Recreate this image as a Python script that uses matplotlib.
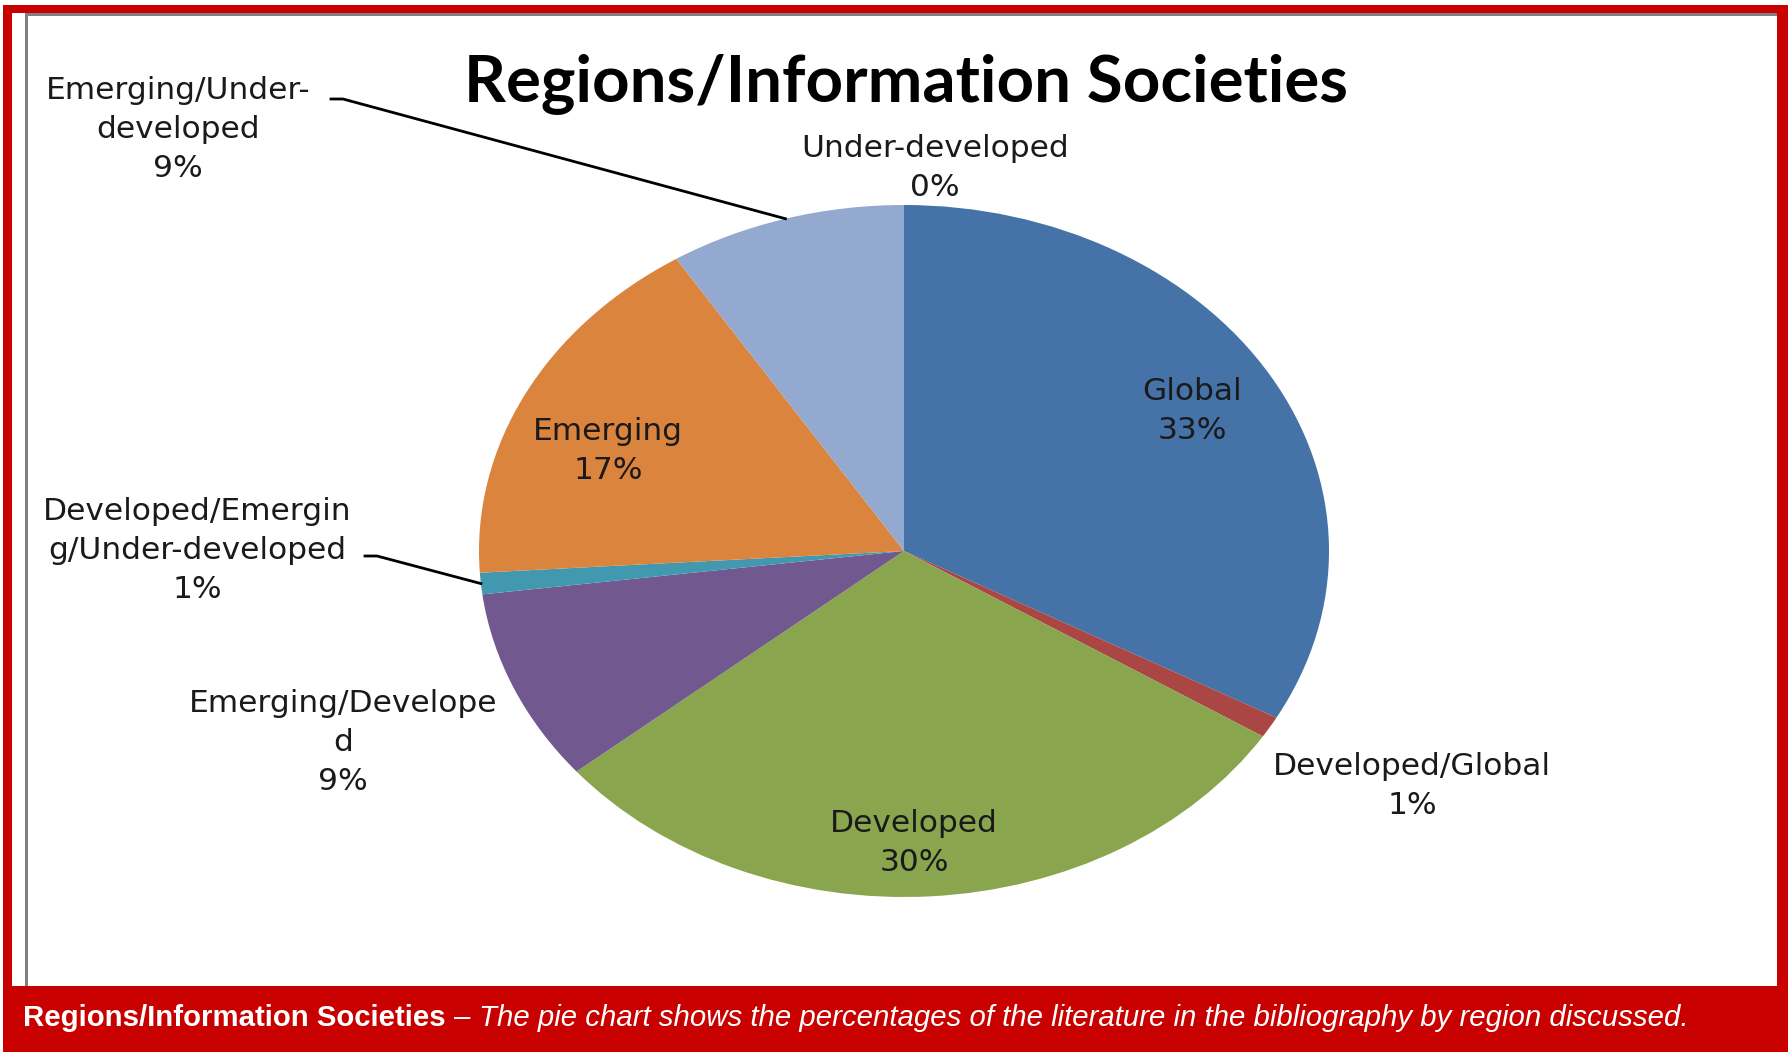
import matplotlib
matplotlib.use("Agg")
import matplotlib.pyplot as plt
from matplotlib.patches import Rectangle
from matplotlib.lines import Line2D
from matplotlib.transforms import IdentityTransform
import numpy as np

# ---------------- data ----------------
categories = ["Global", "Developed/Global", "Developed", "Emerging/Developed",
              "Developed/Emerging/Under-developed", "Emerging",
              "Emerging/Under-developed", "Under-developed"]
shares = [33, 1, 30, 9, 1, 17, 9, 0]
# category names as wrapped in the chart's data labels
wrapped_names = ["Global", "Developed/Global", "Developed", "Emerging/Develope\nd",
                 "Developed/Emergin\ng/Under-developed", "Emerging",
                 "Emerging/Under-\ndeveloped", "Under-developed"]
colors = ["#4572A7", "#AA4643", "#89A54E", "#71588F",
          "#4198AF", "#DB843D", "#93A9CF", "#D19392"]
title = "Regions/Information Societies"
caption_bold = "Regions/Information Societies"
caption_italic = "The pie chart shows the percentages of the literature in the bibliography by region discussed."

# ---------------- layout ----------------
W, H = 1788, 1052
fig = plt.figure(figsize=(W / 100, H / 100), dpi=100)
fig.patch.set_facecolor("white")

RED = "#C80000"
GRAY = "#808080"


def rect(x0, y0, x1, y1, color, z=0):
    fig.add_artist(Rectangle((x0 / W, 1 - y1 / H), (x1 - x0) / W, (y1 - y0) / H,
                             transform=fig.transFigure, facecolor=color,
                             edgecolor="none", zorder=z))


# frame
rect(3, 5, W, H, RED, 0)
rect(12, 13, 1777, 986, "white", 1)
rect(25, 13, 1777, 16, GRAY, 2)
rect(25, 13, 28, 986, GRAY, 2)

# pie axes (elliptical pie)
cx, cy, rx, ry = 904, 551, 425, 346
ax = fig.add_axes([(cx - rx) / W, 1 - (cy + ry) / H, 2 * rx / W, 2 * ry / H])
wedges, _ = ax.pie(shares, colors=colors, startangle=90, counterclock=False,
                   radius=1, wedgeprops=dict(linewidth=0))
ax.set_aspect("auto")
ax.set_xlim(-1, 1)
ax.set_ylim(-1, 1)
ax.axis("off")
ax.set_zorder(3)

# labels
FS = 22.5
LS = 1.674 * 0.833 * (21.5 / FS) * 1.07
LINE = 39
label_pos = {  # (center x, first baseline y) in pixels from top-left
    "Global": (1192, 400),
    "Developed/Global": (1412, 775),
    "Developed": (914, 832),
    "Emerging/Developed": (343, 712),
    "Developed/Emerging/Under-developed": (197, 520),
    "Emerging": (608, 440),
    "Emerging/Under-developed": (178, 99),
    "Under-developed": (935, 157),
}
for cat, name, v in zip(categories, wrapped_names, shares):
    x, y = label_pos[cat]
    s = f"{name}\n{v}%"
    nl = s.count("\n")
    ylast = y + LINE * nl
    fig.text(x / W, 1 - ylast / H, s, ha="center", va="baseline",
             multialignment="center", fontsize=FS, family="DejaVu Sans",
             color="#1a1a1a", linespacing=LS, zorder=5)

# leader lines
leaders = {"Emerging/Under-developed": [(331, 99), (343, 99)],
           "Developed/Emerging/Under-developed": [(365, 556), (377, 556)]}
for cat, pts in leaders.items():
    w = wedges[categories.index(cat)]
    th = np.deg2rad((w.theta1 + w.theta2) / 2)
    ex, ey = ax.transData.transform((np.cos(th), np.sin(th)))
    xs = [p[0] for p in pts] + [ex]
    ys = [H - p[1] for p in pts] + [ey]
    fig.add_artist(Line2D(xs, ys, transform=IdentityTransform(), color="black",
                          lw=2, zorder=6))

# title fitted to width
r = fig.canvas.get_renderer()
t = fig.text(906 / W, 1 - 102 / H, title, ha="center", va="baseline",
             fontsize=48, family="Lato", weight="bold", color="black", zorder=5)
tw = t.get_window_extent(r).width
t.set_fontsize(48 * 885 / tw)

# caption
base = 20
cap_y = 1 - 1026 / H
tb = fig.text(0, cap_y, caption_bold, fontsize=base, family="Liberation Sans",
              weight="bold", color="white", va="baseline", zorder=5)
td = fig.text(0, cap_y, "\u2013", fontsize=base, family="Liberation Sans",
              color="white", va="baseline", zorder=5)
ti = fig.text(0, cap_y, caption_italic, fontsize=base, family="Liberation Sans",
              style="italic", color="white", va="baseline", zorder=5)
wb = tb.get_window_extent(r).width
wd = td.get_window_extent(r).width
wi = ti.get_window_extent(r).width
sp = 0.278 * base * 100 / 72
total = wb + wd + wi + 2 * sp
k = (1686 - 23) / total
s = base * k
for tt in (tb, td, ti):
    tt.set_fontsize(s)
x = 23
tb.set_x(x / W)
x += wb * k + sp * k
td.set_x(x / W)
x += wd * k + sp * k
ti.set_x(x / W)

fig.savefig("out.png", dpi=100, facecolor="white")
